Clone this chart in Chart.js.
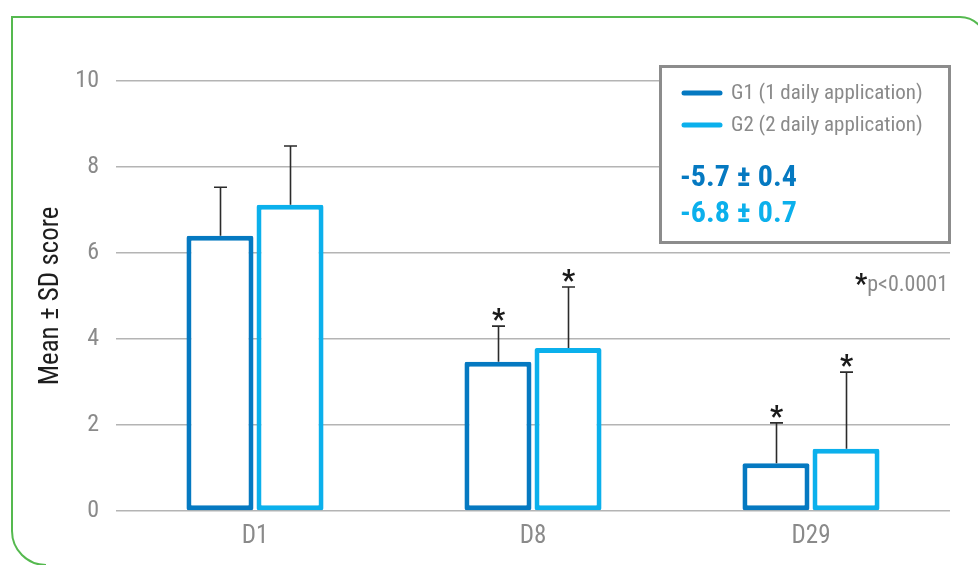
<!DOCTYPE html>
<html>
<head>
<meta charset="utf-8">
<script src="https://cdn.jsdelivr.net/npm/chart.js@4/dist/chart.umd.min.js"></script>
<style>
  html, body { margin: 0; padding: 0; background: #ffffff; }
  #wrap { width: 978px; height: 565px; position: relative; }
</style>
</head>
<body>
<div id="wrap"><canvas id="c" width="978" height="565"></canvas></div>
<script>
// Visits and group scores (mean and SD)
const visits = ["D1", "D8", "D29"];
const groupLabels = ["G1 (1 daily application)", "G2 (2 daily application)"];
const g1Mean = [6.40, 3.47, 1.11];
const g1SD   = [1.13, 0.83, 0.94];
const g2Mean = [7.12, 3.79, 1.45];
const g2SD   = [1.37, 1.42, 1.78];
// Significance vs. D1 for each visit
const significant = [false, true, true];
// Change from D1 to D29 per group (mean ± SD)
const changeMean = [-5.7, -6.8];
const changeSD   = [0.4, 0.7];
const pNote = "p<0.0001";
const yTicks = [0, 2, 4, 6, 8, 10];

const colorG1 = "#0579c1";
const colorG2 = "#0bb0ec";
const FONT = "'Roboto Condensed', Roboto, 'Liberation Sans', sans-serif";
const gray = "#8a8a8a";

// Green frame around the figure
const framePlugin = {
  id: "frame",
  beforeDraw(chart) {
    const ctx = chart.ctx;
    const l = 12, t = 17, r = 986, b = 565, rTR = 26, rBL = 34;
    ctx.save();
    ctx.strokeStyle = "#55b94f";
    ctx.lineWidth = 2;
    ctx.beginPath();
    ctx.moveTo(l, b - rBL);
    ctx.lineTo(l, t);
    ctx.lineTo(r - rTR, t);
    ctx.arcTo(r, t, r, t + rTR, rTR);
    ctx.lineTo(r, b);
    ctx.moveTo(l, b - rBL);
    ctx.arcTo(l, b, l + rBL, b, rBL);
    ctx.stroke();
    ctx.restore();
  }
};

// SD whiskers with caps and significance stars
const errorBarPlugin = {
  id: "errorBars",
  afterDatasetsDraw(chart) {
    const ctx = chart.ctx;
    const y = chart.scales.y;
    const sds = [g1SD, g2SD];
    ctx.save();
    chart.data.datasets.forEach((ds, di) => {
      const meta = chart.getDatasetMeta(di);
      meta.data.forEach((bar, i) => {
        const top = y.getPixelForValue(ds.data[i] + sds[di][i]);
        const x = Math.round(bar.x) + 0.5;
        ctx.strokeStyle = "#2b2b2b";
        ctx.lineWidth = 1.6;
        ctx.beginPath();
        ctx.moveTo(x, bar.y);
        ctx.lineTo(x, top);
        ctx.moveTo(x - 6.5, top);
        ctx.lineTo(x + 6.5, top);
        ctx.stroke();
        if (significant[i]) {
          ctx.fillStyle = "#1a1a1a";
          ctx.font = "bold 29px " + FONT;
          ctx.textAlign = "center";
          ctx.textBaseline = "alphabetic";
          ctx.fillText("*", x, top + 3);
        }
      });
    });
    ctx.restore();
  }
};

// Legend box with group change summary, and p-value note
const legendPlugin = {
  id: "legendBox",
  afterDraw(chart) {
    const ctx = chart.ctx;
    const bx = 660.5, by = 66.5, bw = 289, bh = 176;
    ctx.save();
    ctx.fillStyle = "#ffffff";
    ctx.fillRect(bx, by, bw, bh);
    ctx.strokeStyle = "#8c8c8c";
    ctx.lineWidth = 3;
    ctx.strokeRect(bx, by, bw, bh);

    const rows = [93, 125];
    chart.data.datasets.forEach((ds, di) => {
      ctx.strokeStyle = ds.borderColor;
      ctx.lineWidth = 5;
      ctx.lineCap = "round";
      ctx.beginPath();
      ctx.moveTo(684, rows[di]);
      ctx.lineTo(720, rows[di]);
      ctx.stroke();
      ctx.fillStyle = gray;
      ctx.font = "21px " + FONT;
      ctx.textAlign = "left";
      ctx.textBaseline = "middle";
      ctx.fillText(ds.label, 731, rows[di] + 1);
    });

    const vRows = [177, 213];
    chart.data.datasets.forEach((ds, di) => {
      ctx.fillStyle = ds.borderColor;
      ctx.font = "bold 30px " + FONT;
      ctx.textAlign = "left";
      ctx.textBaseline = "middle";
      ctx.fillText(changeMean[di].toFixed(1) + " \u00b1 " + changeSD[di].toFixed(1), 680, vRows[di] + 1);
    });

    // p-value note
    ctx.textBaseline = "alphabetic";
    ctx.textAlign = "right";
    ctx.fillStyle = gray;
    ctx.font = "22px " + FONT;
    ctx.fillText(pNote, 948, 291);
    const w = ctx.measureText(pNote).width;
    ctx.fillStyle = "#1a1a1a";
    ctx.font = "bold 27px " + FONT;
    ctx.fillText("*", 948 - w, 293);
    ctx.restore();
  }
};

new Chart(document.getElementById("c"), {
  type: "bar",
  data: {
    labels: visits,
    datasets: [
      { label: groupLabels[0], data: g1Mean, borderColor: colorG1, backgroundColor: "#ffffff",
        borderWidth: 5, borderRadius: 2, borderSkipped: false },
      { label: groupLabels[1], data: g2Mean, borderColor: colorG2, backgroundColor: "#ffffff",
        borderWidth: 5, borderRadius: 2, borderSkipped: false }
    ]
  },
  options: {
    responsive: false,
    animation: false,
    layout: { padding: { top: 81, right: 28, left: 0, bottom: 0 } },
    datasets: { bar: { categoryPercentage: 0.504, barPercentage: 0.957 } },
    plugins: {
      legend: { display: false },
      tooltip: { enabled: false }
    },
    scales: {
      x: {
        grid: { display: false },
        border: { display: false },
        ticks: { color: gray, font: { family: FONT, size: 25 }, padding: 3 },
        afterFit(s) { s.height = 54; }
      },
      y: {
        min: 0, max: 10,
        afterBuildTicks(s) { s.ticks = yTicks.map(v => ({ value: v })); },
        grid: { color: "#b4b4b4", lineWidth: 1.5, drawTicks: false },
        border: { display: false },
        ticks: { color: gray, font: { family: FONT, size: 24 }, padding: 17 },
        title: {
          display: true, text: "Mean \u00b1 SD score", color: "#1e1e1e",
          font: { family: FONT, size: 27 }, padding: { top: 35, bottom: 0 }
        },
        afterFit(s) { s.width = 116; }
      }
    }
  },
  plugins: [framePlugin, errorBarPlugin, legendPlugin]
});
</script>
</body>
</html>
